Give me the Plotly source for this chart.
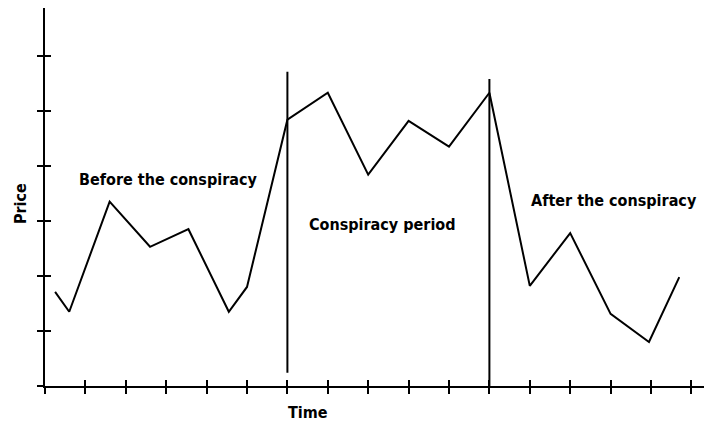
import plotly.graph_objects as go

# Data (x in time-tick units, y in price-tick units)
time_vals = [0.25, 0.6, 1.6, 2.6, 3.55, 4.55, 5.0, 6.0, 7.0, 8.0, 9.0, 10.0, 11.0, 12.0, 13.0, 14.0, 14.95, 15.7]
price_vals = [1.71, 1.35, 3.35, 2.53, 2.85, 1.35, 1.80, 4.84, 5.33, 3.84, 4.82, 4.35, 5.33, 1.82, 2.78, 1.31, 0.80, 1.98]

period_bounds = [6, 11]
bound_tops = [5.71, 5.58]
bound_bottoms = [0.24, 0.0]

labels = ["Before the conspiracy", "Conspiracy period", "After the conspiracy"]
label_x = [3.04, 8.35, 14.08]
label_y = [3.75, 2.93, 3.38]

X_RANGE = [0, 16.51]
Y_RANGE = [0, 6.87]

FONT = "DejaVu Sans Condensed, DejaVu Sans, sans-serif"
FSIZE = 16

fig = go.Figure()

fig.add_trace(go.Scatter(x=time_vals, y=price_vals, mode="lines",
                         line=dict(color="black", width=2), hoverinfo="skip",
                         showlegend=False))

for bx, top, bot in zip(period_bounds, bound_tops, bound_bottoms):
    fig.add_trace(go.Scatter(x=[bx, bx], y=[bot, top], mode="lines",
                             line=dict(color="black", width=2), hoverinfo="skip",
                             showlegend=False))

# invisible trace on overlay axes to produce crossing ticks
fig.add_trace(go.Scatter(x=[None], y=[None], xaxis="x2", yaxis="y2",
                         mode="lines", showlegend=False, hoverinfo="skip"))

for t, x, y in zip(labels, label_x, label_y):
    fig.add_annotation(x=x, y=y, text="<b>" + t + "</b>", showarrow=False,
                       font=dict(family=FONT, size=FSIZE, color="black"),
                       xanchor="center", yanchor="middle")

# axis titles
fig.add_annotation(x=0.394, y=-0.069, xref="paper", yref="paper", text="<b>Time</b>",
                   showarrow=False, xanchor="center", yanchor="middle", borderpad=0,
                   font=dict(family=FONT, size=FSIZE, color="black"))
fig.add_annotation(x=-0.0375, y=0.484, xref="paper", yref="paper", text="<b>Price</b>",
                   showarrow=False, xanchor="center", yanchor="middle", textangle=-90,
                   borderpad=0,
                   font=dict(family=FONT, size=FSIZE, color="black"))

axis_common = dict(showgrid=False, zeroline=False, showticklabels=False,
                   ticklen=6, tickwidth=2, tickcolor="black", dtick=1, tick0=0,
                   automargin=False)

# page body adds an 8px offset, margins compensate for it
fig.update_layout(
    width=712, height=423,
    margin=dict(l=37, r=8, t=0, b=45, autoexpand=False),
    plot_bgcolor="white", paper_bgcolor="white",
    xaxis=dict(range=X_RANGE, showline=True, linecolor="black", linewidth=2,
               ticks="outside", **axis_common),
    yaxis=dict(range=Y_RANGE, showline=True, linecolor="black", linewidth=2,
               ticks="outside", **axis_common),
    xaxis2=dict(range=X_RANGE, overlaying="x", side="bottom", anchor="y2",
                showline=False, ticks="inside", **axis_common),
    yaxis2=dict(range=Y_RANGE, overlaying="y", side="left", anchor="x2",
                showline=False, ticks="inside", **axis_common),
)

fig.write_html("out.html")
